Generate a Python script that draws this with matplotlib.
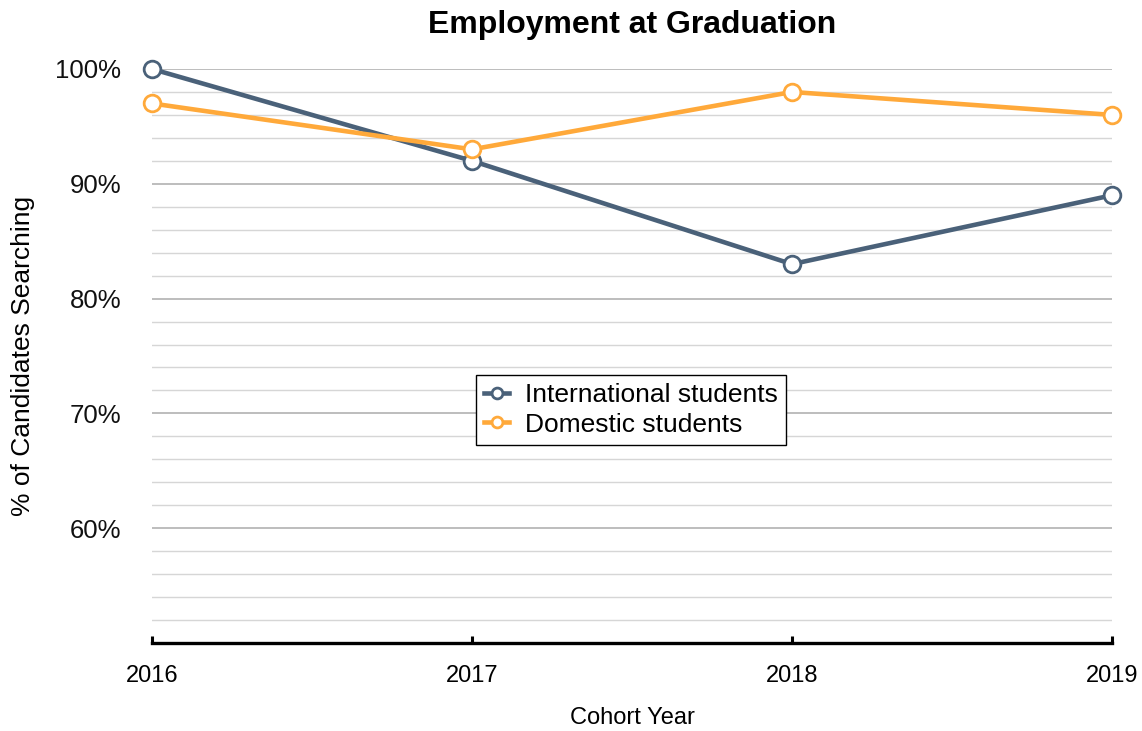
import matplotlib
matplotlib.use("Agg")
import matplotlib.pyplot as plt
from matplotlib.ticker import MultipleLocator, FuncFormatter

plt.rcParams['font.family'] = ['Liberation Sans', 'DejaVu Sans']

years = [2016, 2017, 2018, 2019]
international = [100, 92, 83, 89]
domestic = [97, 93, 98, 96]
series_names = ["International students", "Domestic students"]
colors = ["#4a6179", "#ffa93a"]

fig = plt.figure(figsize=(11.42, 7.31), dpi=100)
ax = fig.add_axes([152/1142, 1-643/731, (1112-152)/1142, (643-69)/731])

ax.set_xlim(2016, 2019)
ax.set_ylim(50, 100)
ax.yaxis.set_major_locator(MultipleLocator(10))
ax.yaxis.set_minor_locator(MultipleLocator(2))
ax.yaxis.set_major_formatter(FuncFormatter(lambda v, p: f"{v:.0f}%" if v >= 60 else ""))
ax.set_xticks(years)
ax.set_xticklabels([str(y) for y in years])

ax.grid(axis='y', which='major', color='#bdbdbd', linewidth=1.4, zorder=0)
ax.grid(axis='y', which='minor', color='#d6d6d6', linewidth=1.0, zorder=0)
ax.set_axisbelow(True)

for s in ['top', 'right', 'left']:
    ax.spines[s].set_visible(False)
ax.spines['bottom'].set_linewidth(2.4)
ax.spines['bottom'].set_color('black')

ax.tick_params(axis='y', which='both', length=0, labelsize=18.5, pad=22, colors='#111111')
ax.tick_params(axis='x', which='major', direction='in', length=5, width=2.2,
               labelsize=17, pad=16, colors='black')

for vals, name, c in zip([international, domestic], series_names, colors):
    ax.plot(years, vals, color=c, linewidth=3.3, marker='o', markersize=12,
            markerfacecolor='white', markeredgecolor=c, markeredgewidth=2.0,
            label=name, clip_on=False, zorder=3)

ax.set_title("Employment at Graduation", fontsize=23, fontweight='bold', pad=26)
ax.set_xlabel("Cohort Year", fontsize=17, va='center')
ax.xaxis.set_label_coords(0.5, (643-718)/574)
ax.set_ylabel("% of Candidates Searching", fontsize=19, va='center')
ax.yaxis.set_label_coords((23-152)/960, 0.5)

leg = ax.legend(loc='center', bbox_to_anchor=(0.499, 0.406), fontsize=19,
                frameon=True, fancybox=False, edgecolor='black', framealpha=1,
                handlelength=0.95, handletextpad=0.6, borderpad=0.3,
                labelspacing=0.2, markerscale=0.65, borderaxespad=0)
leg.get_frame().set_linewidth(1.0)

fig.savefig("out.png", dpi=100)
